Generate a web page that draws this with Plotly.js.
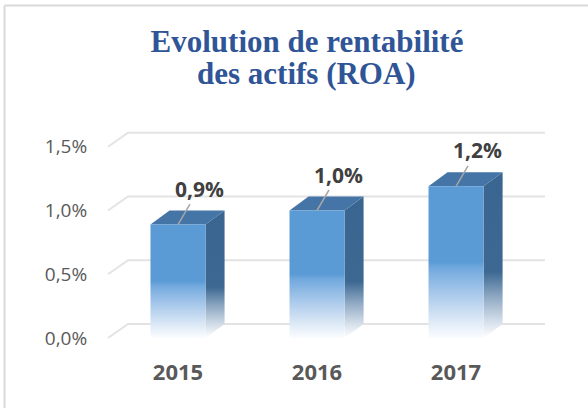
<!DOCTYPE html>
<html><head><meta charset="utf-8">
<script src="https://cdn.plot.ly/plotly-3.0.1.min.js"></script>
<style>html,body{margin:0;padding:0;background:#fff;} #chart{width:588px;height:408px;}</style>
</head><body><div id="chart"></div>
<script>
// ---- data ----
const years = ['2015', '2016', '2017'];
const roa = [0.0089, 0.0100, 0.0119];
const yTicks = [0, 0.005, 0.010, 0.015];
const titleLine1 = 'Evolution de rentabilité';
const titleLine2 = 'des actifs (ROA)';

// ---- style / geometry ----
const HW = 0.198;     // half bar width (category units)
const DX = 0.137;     // depth offset x
const DY = 0.0011;    // depth offset y
const GX0 = -0.5036, GX1 = 2.640, GDX = 0.144;

const frontScale = [[0,'#fbfdff'],[0.12,'#dbe8f6'],[0.3,'#a6c7ea'],[0.46,'#72a9de'],[0.5,'#5B9BD5'],[1,'#5B9BD5']];
const sideScale  = [[0,'#ffffff'],[0.1,'#d5dfea'],[0.25,'#8ea8c3'],[0.4,'#3c6892'],[1,'#3A6590']];
const titleFont = {family:'Liberation Serif, Times New Roman, serif', size:31, color:'#2F5597', weight:'bold'};

const traces = [];
const gx = [], gy = [];
yTicks.forEach(t => { gx.push(GX0, GX0 + GDX, GX1, null); gy.push(t, t + DY, t + DY, null); });
traces.push({type:'scatter', mode:'lines', x:gx, y:gy, line:{color:'#e3e3e3', width:2},
  hoverinfo:'skip', showlegend:false});

roa.forEach((v, c) => {
  traces.push({type:'scatter', mode:'lines', fill:'toself',
    x:[c+HW, c+HW+DX, c+HW+DX, c+HW, c+HW], y:[0, DY, v+DY, v, 0],
    line:{width:0, color:'rgba(0,0,0,0)'},
    fillgradient:{type:'vertical', start:0, stop:v+DY, colorscale:sideScale},
    hoverinfo:'skip', showlegend:false});
  traces.push({type:'scatter', mode:'lines', fill:'toself',
    x:[c-HW, c+HW, c+HW+DX, c-HW+DX, c-HW], y:[v, v, v+DY, v+DY, v],
    line:{width:0, color:'rgba(0,0,0,0)'}, fillcolor:'#4574A6',
    hoverinfo:'skip', showlegend:false});
  traces.push({type:'scatter', mode:'lines', fill:'toself',
    x:[c-HW, c+HW, c+HW, c-HW, c-HW], y:[0, 0, v, v, 0],
    line:{width:0, color:'rgba(0,0,0,0)'},
    fillgradient:{type:'vertical', start:0, stop:v, colorscale:frontScale},
    hoverinfo:'skip', showlegend:false});
});

const fmt = v => (v*100).toFixed(1).replace('.', ',') + '%';

const annotations = roa.map((v, c) => ({x:c, y:v, xref:'x', yref:'y', text:fmt(v),
    showarrow:true, arrowhead:0, arrowwidth:1.5, arrowcolor:'#a6a6a6', ax:21, ay:-36,
    font:{family:'Open Sans', size:21, color:'#404040', weight:'bold'}}));
annotations.push({xref:'paper', yref:'paper', x:0.4572, y:1.2136, xanchor:'center', yanchor:'middle',
  text:titleLine2, showarrow:false, font:titleFont});

const layout = {
  width:588, height:408,
  margin:{l:104, r:40, t:120, b:68},
  paper_bgcolor:'#ffffff', plot_bgcolor:'rgba(0,0,0,0)',
  separators:', ',
  showlegend:false,
  title:{text:titleLine1, xref:'container', yref:'container', x:307/588, xanchor:'center',
    y:1-41/408, yanchor:'middle', font:titleFont},
  xaxis:{range:[-0.5324, 2.6616], tickvals:[0,1,2], ticktext:years, showgrid:false, zeroline:false,
    showline:false, ticks:'outside', ticklen:13, tickcolor:'rgba(0,0,0,0)',
    tickfont:{family:'Open Sans', size:22, color:'#595959', weight:'bold'}, fixedrange:true},
  yaxis:{range:[-0.000157, 0.017098], tickvals:yTicks, tickformat:'.1%', showgrid:false,
    zeroline:false, showline:false, ticks:'outside', ticklen:12, tickcolor:'rgba(0,0,0,0)',
    tickfont:{family:'Open Sans', size:19, color:'#595959'}, fixedrange:true},
  annotations: annotations,
  shapes:[
    {type:'line', xref:'paper', yref:'paper', x0:-0.2241, x1:-0.2241, y0:-0.5, y1:1.5205,
      line:{color:'#d9d9d9', width:2}, layer:'above'},
    {type:'line', xref:'paper', yref:'paper', x0:-0.2241, x1:1.3, y0:1.5205, y1:1.5205,
      line:{color:'#d9d9d9', width:2}, layer:'above'}
  ]
};

Plotly.newPlot('chart', traces, layout, {displayModeBar:false, staticPlot:true});
</script></body></html>
